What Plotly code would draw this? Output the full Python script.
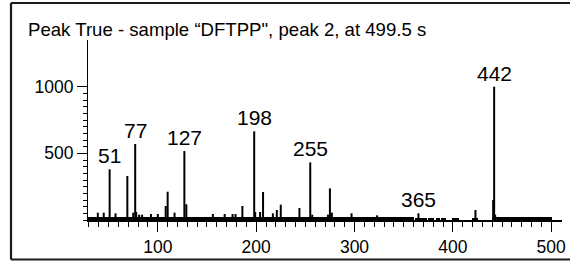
import plotly.graph_objects as go

# ---- data ----
title_text = 'Peak True - sample \u201cDFTPP", peak 2, at 499.5 s'

peak_mz = [39, 45, 51, 57, 69, 75, 77, 78, 81, 84, 93, 100, 108, 110, 117, 127, 129,
           156, 168, 176, 179, 186, 198, 199, 204, 207, 217, 221, 225, 244, 255, 257,
           273, 275, 277, 297, 323, 365, 423, 441, 442, 443]
peak_int = [55, 55, 380, 50, 330, 55, 570, 60, 40, 40, 45, 45, 105, 212, 55, 517, 118,
            45, 45, 45, 45, 105, 665, 60, 60, 210, 50, 75, 115, 90, 432, 40,
            40, 237, 55, 50, 35, 50, 75, 150, 1000, 40]

label_mz = [51, 77, 127, 198, 255, 365, 442]

# low-level noise floor: contiguous m/z ranges and their level
noise_start = [30, 362, 375, 383, 388, 400, 420, 440]
noise_end = [360, 373, 380, 386, 393, 406, 425, 500]
noise_level = [20, 18, 18, 18, 18, 18, 18, 24]

x_ticks = [100, 200, 300, 400, 500]
y_ticks = [500, 1000]

# ---- figure ----
FONT = "Liberation Sans, Arial, sans-serif"
W, H = 570, 261
L, R, T, B = 88, 8, 40, 41

fig = go.Figure()

# noise floor as bars spanning each range
fig.add_trace(go.Bar(
    x=[(s + e) / 2 for s, e in zip(noise_start, noise_end)],
    y=noise_level,
    width=[e - s + 1 for s, e in zip(noise_start, noise_end)],
    marker=dict(color="black", line=dict(width=0)),
    hoverinfo="skip", showlegend=False,
))

# stick spectrum
xs, ys = [], []
for m, v in zip(peak_mz, peak_int):
    xs += [m, m, None]
    ys += [0, v, None]
fig.add_trace(go.Scatter(x=xs, y=ys, mode="lines",
                         line=dict(color="black", width=2),
                         hoverinfo="skip", showlegend=False))

# peak labels
lookup = dict(zip(peak_mz, peak_int))
for m in label_mz:
    fig.add_annotation(x=m, y=lookup[m], text=str(m), showarrow=False,
                       xanchor="center", yanchor="bottom", yshift=0,
                       font=dict(family=FONT, size=21, color="black"))

# outer frame (left, top and bottom edges; right edge is outside the view)
def px_x(p):
    return (p - L) / (W - L - R)

def px_y(p):
    return (H - B - p) / (H - T - B)

frame = dict(color="#1a1a1a", width=2.2)
fx0, fx1, fy0, fy1 = px_x(11), px_x(570), px_y(259.5), px_y(3)
fig.add_shape(type="line", xref="paper", yref="paper", x0=fx0, x1=fx0, y0=fy0, y1=fy1, line=frame)
fig.add_shape(type="line", xref="paper", yref="paper", x0=fx0, x1=fx1, y0=fy1, y1=fy1, line=frame)
fig.add_shape(type="line", xref="paper", yref="paper", x0=fx0, x1=fx1, y0=fy0, y1=fy0, line=frame)

fig.update_layout(
    template="none",
    width=W, height=H,
    margin=dict(l=L, r=R, t=T, b=B, pad=0, autoexpand=False),
    paper_bgcolor="white", plot_bgcolor="white",
    font=dict(family=FONT, size=17.5, color="black"),
    title=dict(text=title_text, x=28 / W, xanchor="left", xref="container",
               y=1 - 29 / H, yanchor="middle", yref="container",
               font=dict(family=FONT, size=18.6, color="black")),
    showlegend=False,
    bargap=0,
)

fig.update_xaxes(
    range=[29, 511], showgrid=False, zeroline=False, automargin=False,
    showline=True, linecolor="black", linewidth=1.5,
    tickmode="array", tickvals=x_ticks, ticktext=[str(v) for v in x_ticks],
    ticks="outside", ticklen=10, tickwidth=1.2, tickcolor="black",
    minor=dict(tickmode="array", tickvals=list(range(30, 501, 10)),
               ticks="outside", ticklen=5, tickwidth=1, tickcolor="black",
               showgrid=False),
    tickfont=dict(family=FONT, size=17.5, color="black"),
)
fig.update_yaxes(
    range=[0, 1350], showgrid=False, zeroline=False, automargin=False,
    showline=True, linecolor="black", linewidth=1.2,
    tickmode="array", tickvals=y_ticks, ticktext=[str(v) for v in y_ticks],
    ticks="outside", ticklen=10, tickwidth=1.2, tickcolor="black",
    minor=dict(tickmode="array", tickvals=list(range(0, 1001, 50)),
               ticks="outside", ticklen=4, tickwidth=1, tickcolor="black",
               showgrid=False),
    tickfont=dict(family=FONT, size=17.5, color="black"),
)

fig.write_html("out.html", config={"displayModeBar": False},
               post_script="document.body.style.margin='0';")
